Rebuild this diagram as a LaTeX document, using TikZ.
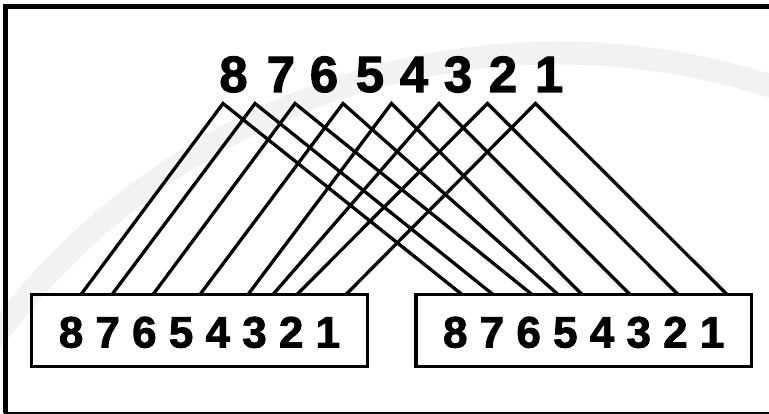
\documentclass[tikz,border=0pt]{standalone}
\usepackage{fontspec}
\setmainfont{Liberation Sans}
\newfontfamily\heavyfont[FakeBold=2]{Liberation Sans Bold}
\begin{document}
\begin{tikzpicture}[x=1pt,y=-1pt,
  wire/.style={line width=3.3pt, line join=miter, line cap=butt},
  boxstyle/.style={draw, line width=3.3pt, inner sep=0pt, minimum height=72pt},
  topdigit/.style={font=\fontsize{51}{51}\selectfont\heavyfont, anchor=base, inner sep=0pt},
  boxdigits/.style={font=\fontsize{44}{44}\selectfont\heavyfont, anchor=base, inner sep=0pt},
  frameline/.style={line width=5pt}]
\useasboundingbox (0,0) rectangle (769,414);
\clip (0,0) rectangle (769,414);
\fill[white] (0,0) rectangle (769,414);
% faint background arc
\draw[black!5, line width=23pt] (558,753) ++(-160:700) arc[start angle=-160, end angle=-55, radius=700];
% frame (right side lies outside the picture)
\draw[frameline] (790,7) -- (5.8,7) -- (5.8,413);
\draw[line width=3pt] (4,413) -- (790,413);
% boxes
\node[boxstyle, minimum width=336pt] (lbox) at (199.5,330.5) {};
\node[boxstyle, minimum width=335.5pt] (rbox) at (583.75,330.5) {};
\node[boxdigits] (ltext) at (199.5,347.5) {8 7 6 5 4 3 2 1};
\node[boxdigits] (rtext) at (583.75,347.5) {8 7 6 5 4 3 2 1};
% top digits
\node[topdigit] (d8) at (233.5,92) {8};
\node[topdigit] (d7) at (281,92) {7};
\node[topdigit] (d6) at (324,92) {6};
\node[topdigit] (d5) at (370,92) {5};
\node[topdigit] (d4) at (414,92) {4};
\node[topdigit] (d3) at (458,92) {3};
\node[topdigit] (d2) at (503,92) {2};
\node[topdigit] (d1) at (549,92) {1};
% apexes
\coordinate (t8) at (223,103.5);
\coordinate (t7) at (255,103.5);
\coordinate (t6) at (295,103.5);
\coordinate (t5) at (343,103.5);
\coordinate (t4) at (391.5,103.5);
\coordinate (t3) at (439,103.5);
\coordinate (t2) at (487.5,103.5);
\coordinate (t1) at (535.5,103.5);
% ends on left box
\coordinate (l8) at (81,294.5);
\coordinate (l7) at (112,294.5);
\coordinate (l6) at (153,294.5);
\coordinate (l5) at (200,294.5);
\coordinate (l4) at (248,294.5);
\coordinate (l3) at (273,294.5);
\coordinate (l2) at (297,294.5);
\coordinate (l1) at (346,294.5);
% ends on right box
\coordinate (r8) at (462,294.5);
\coordinate (r7) at (493,294.5);
\coordinate (r6) at (532,294.5);
\coordinate (r5) at (558,294.5);
\coordinate (r4) at (582,294.5);
\coordinate (r3) at (630,294.5);
\coordinate (r2) at (678,294.5);
\coordinate (r1) at (727,294.5);
\foreach \i in {1,...,8}{
  \draw[wire] (l\i) -- (t\i) -- (r\i);
}
\end{tikzpicture}
\end{document}
